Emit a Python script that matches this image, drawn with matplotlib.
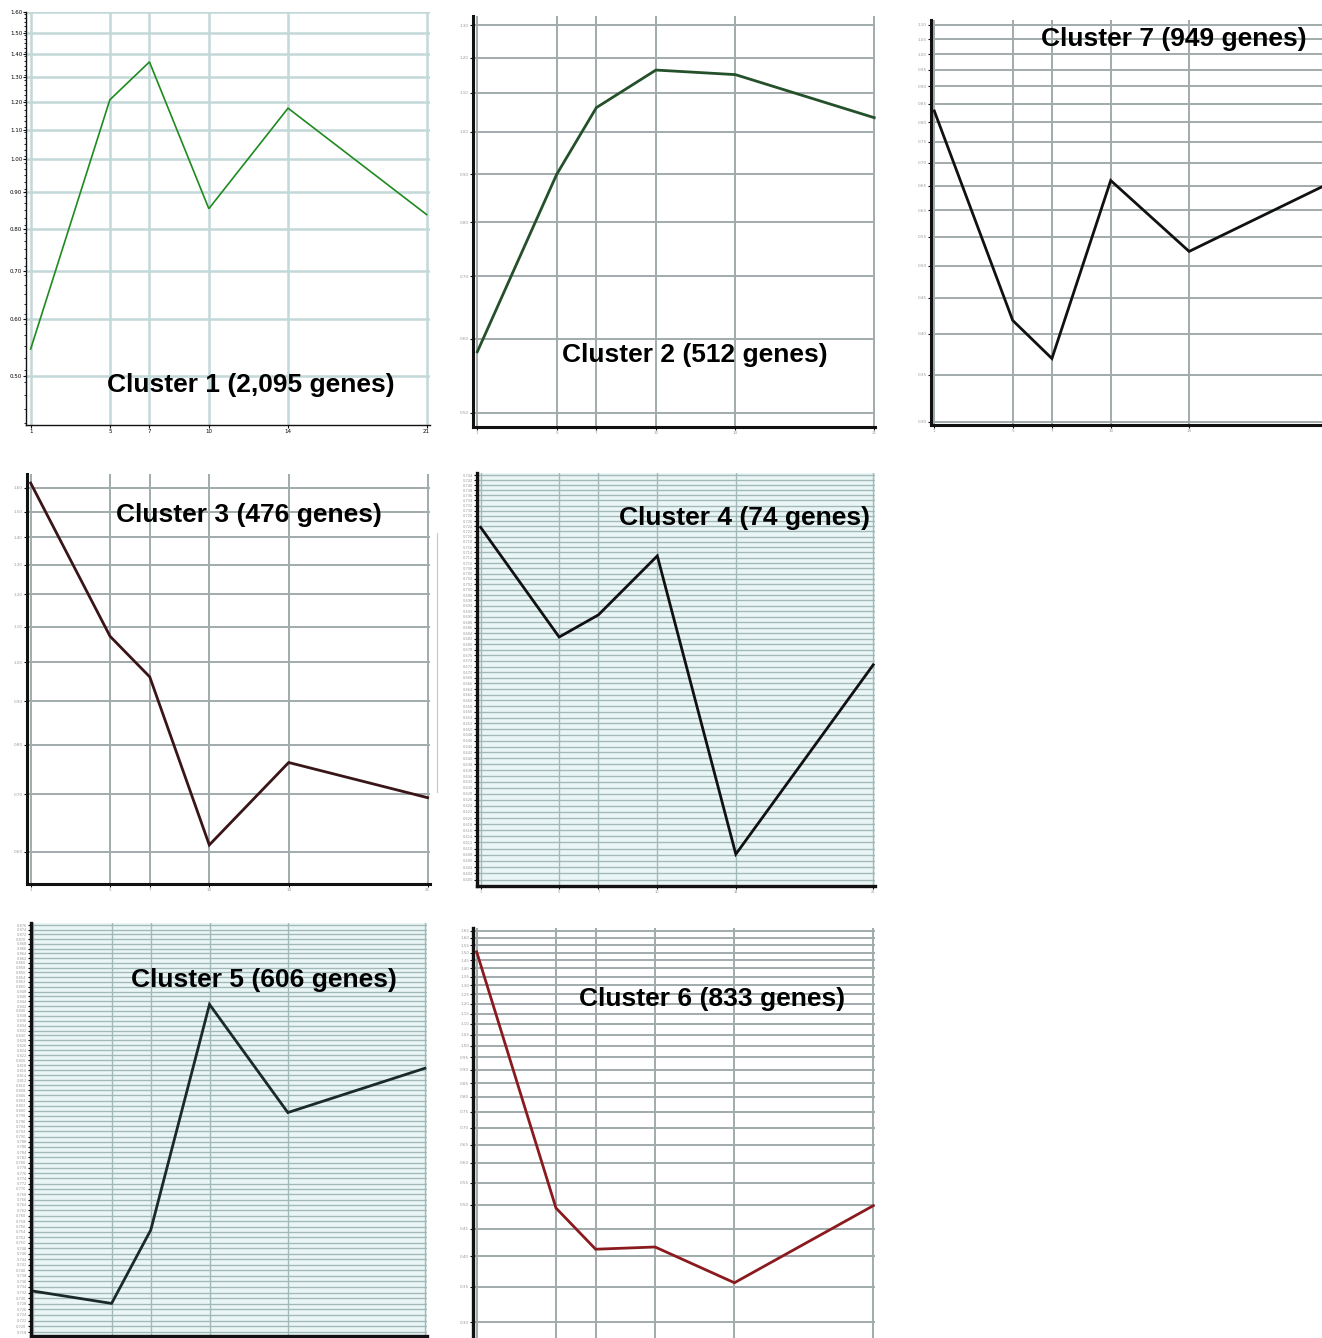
import numpy as np
import matplotlib
matplotlib.use("Agg")
import matplotlib.pyplot as plt
from matplotlib.ticker import FixedLocator, NullFormatter
from matplotlib.lines import Line2D

# sampling days (x axis of every panel)
days = [1, 5, 7, 10, 14, 21]

# mean expression profile per cluster
cluster1 = [0.545, 1.21, 1.366, 0.854, 1.178, 0.838]
cluster2 = [0.581, 0.90, 1.061, 1.164, 1.151, 1.035]
cluster3 = [1.62, 1.072, 0.961, 0.611, 0.763, 0.694]
cluster4 = [0.7236, 0.6826, 0.6907, 0.7127, 0.6082, 0.6726]
cluster5 = [0.7325, 0.7281, 0.7547, 0.8427, 0.7993, 0.8168]
cluster6 = [1.505, 0.493, 0.412, 0.416, 0.356, 0.498]
cluster7 = [0.83, 0.418, 0.369, 0.661, 0.524, 0.652]

titles = ["Cluster 1 (2,095 genes)", "Cluster 2 (512 genes)",
          "Cluster 3 (476 genes)", "Cluster 4 (74 genes)",
          "Cluster 5 (606 genes)", "Cluster 6 (833 genes)",
          "Cluster 7 (949 genes)"]

# y grid values of each panel
yticks1 = np.round(np.arange(0.50, 1.601, 0.10), 3)
yticks2 = np.round(np.arange(0.50, 1.301, 0.10), 3)
yticks3 = np.round(np.arange(0.60, 1.601, 0.10), 3)
yticks4 = np.round(np.arange(0.600, 0.7441, 0.002), 4)
yticks5 = np.round(np.arange(0.718, 0.8761, 0.002), 4)
yticks6 = np.round(np.arange(0.30, 1.651, 0.05), 3)
yticks7 = np.round(np.arange(0.30, 1.101, 0.05), 3)

W, H = 1322, 1338
fig = plt.figure(figsize=(W / 100, H / 100), dpi=100)
fig.patch.set_facecolor("white")

# layout: pixel box (left, right, top, bottom), xlim, ylim, styles
panels = [
    dict(y=cluster1, ticks=yticks1, box=(26.3, 430, 12.3, 425.3), xlim=(0.78, 21.17),
         ylim=(0.427, 1.601), color="#1f8a1f", lw=1.2, grid="#c3d8d8", gw=1.8,
         spw=1.0, lab="#000000", fs=4.0, face="white", minor=True, xlab=True,
         title=0, tpos=(107, 385)),
    dict(y=cluster2, ticks=yticks2, box=(472.7, 875, 16, 426.7), xlim=(0.768, 21.04),
         ylim=(0.483, 1.33), color="#24502a", lw=2.0, grid="#a2abab", gw=1.4,
         spw=2.2, lab="#9a9a9a", fs=3.0, face="white", minor=False, xlab=True,
         title=1, tpos=(562, 355)),
    dict(y=cluster7, ticks=yticks7, box=(930.7, 1328.3, 20, 425), xlim=(0.816, 21.1),
         ylim=(0.2968, 1.118), color="#111111", lw=2.0, grid="#a2abab", gw=1.4,
         spw=2.2, lab="#9a9a9a", fs=3.0, face="white", minor=False, xlab=True,
         title=6, tpos=(1041, 39)),
    dict(y=cluster3, ticks=yticks3, box=(26.7, 430, 474, 884), xlim=(0.8, 21.12),
         ylim=(0.55, 1.66), color="#3a1518", lw=2.0, grid="#a2abab", gw=1.4,
         spw=2.2, lab="#9a9a9a", fs=3.0, face="white", minor=False, xlab=True,
         title=2, tpos=(116, 515)),
    dict(y=cluster4, ticks=yticks4, box=(477.3, 875, 473, 886), xlim=(0.83, 21.09),
         ylim=(0.598, 0.7448), color="#111111", lw=2.0, grid="#a3b9b9", gw=1.0,
         spw=2.4, lab="#9a9a9a", fs=2.6, face="#eaf6f6", minor=False, xlab=True,
         title=3, tpos=(619, 518)),
    dict(y=cluster5, ticks=yticks5, box=(30.7, 426.7, 923, 1336), xlim=(0.87, 21.09),
         ylim=(0.7166, 0.8769), color="#1a2a2a", lw=2.0, grid="#a3b9b9", gw=1.0,
         spw=2.4, lab="#9a9a9a", fs=2.6, face="#eaf6f6", minor=False, xlab=False,
         title=4, tpos=(131, 980)),
    dict(y=cluster6, ticks=yticks6, box=(473.3, 875, 928, 1342), xlim=(0.83, 21.09),
         ylim=(0.275, 1.67), color="#8a1a1e", lw=2.0, grid="#a2abab", gw=1.4,
         spw=2.4, lab="#9a9a9a", fs=3.0, face="white", minor=False, xlab=False,
         title=5, tpos=(579, 999)),
]

for p in panels:
    l, r, t, b = p["box"]
    ax = fig.add_axes([l / W, 1 - b / H, (r - l) / W, (b - t) / H])
    ax.set_facecolor(p["face"])
    ax.set_yscale("log")
    ax.set_xlim(*p["xlim"])
    ax.set_ylim(*p["ylim"])
    ax.yaxis.set_major_locator(FixedLocator(p["ticks"]))
    ax.yaxis.set_minor_locator(FixedLocator([]))
    dec = 3 if p["ticks"][1] - p["ticks"][0] < 0.01 else 2
    ax.set_yticklabels(["%.*f" % (dec, v) for v in p["ticks"]])
    ax.set_xticks(days)
    if p["xlab"]:
        # the last day label of the clipped cluster 7 panel falls off the page
        labels = [str(d) for d in days]
        if p["title"] == 6:
            labels[-1] = ""
        ax.set_xticklabels(labels)
    else:
        ax.set_xticklabels([])
    ax.grid(True, color=p["grid"], lw=p["gw"])
    ax.set_axisbelow(True)
    ax.plot(days, p["y"], color=p["color"], lw=p["lw"], solid_joinstyle="miter",
            clip_on=False if p["title"] in (1, 2) else True)
    for s in ("top", "right"):
        ax.spines[s].set_visible(False)
    for s in ("left", "bottom"):
        ax.spines[s].set_linewidth(p["spw"])
        ax.spines[s].set_color("#111111")
    ax.tick_params(axis="both", labelsize=p["fs"], labelcolor=p["lab"],
                   length=2.0, width=0.8, pad=1, color="#111111")
    if p["minor"]:
        ax.yaxis.set_minor_locator(FixedLocator(np.arange(0.43, 1.60, 0.02)))
        ax.yaxis.set_minor_formatter(NullFormatter())
        ax.tick_params(axis="y", which="minor", length=1.2, width=0.6)
    fig.text(p["tpos"][0] / W, 1 - p["tpos"][1] / H, titles[p["title"]],
             fontsize=19, fontweight="bold", family="Liberation Sans",
             ha="left", va="center", color="#000000")

# stray frame edge left over next to the cluster 3 screenshot
fig.add_artist(Line2D([437 / W, 437 / W], [1 - 533 / H, 1 - 792 / H],
                      color="#c8c8c8", lw=0.8))

fig.savefig("out.png", dpi=100)
